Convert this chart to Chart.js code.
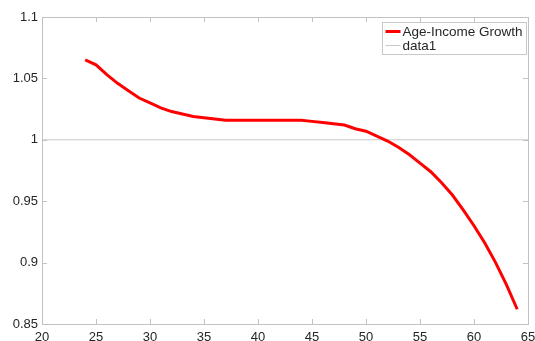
<!DOCTYPE html>
<html>
<head>
<meta charset="utf-8">
<script src="https://cdn.jsdelivr.net/npm/chart.js"></script>
<style>
  html, body { margin: 0; padding: 0; background: #fff; }
  #wrap { width: 535px; height: 341px; }
</style>
</head>
<body>
<div id="wrap"><canvas id="growthChart" width="535" height="341"></canvas></div>
<script>
// ages and the age-income growth factor
const ages = [24, 25, 26, 27, 28, 29, 30, 31, 32, 33, 34, 35, 36, 37, 38, 39, 40, 41, 42, 43, 44,
              45, 46, 47, 48, 49, 50, 51, 52, 53, 54, 55, 56, 57, 58, 59, 60, 61, 62, 63, 64];
const growth = [1.065, 1.061, 1.053, 1.046, 1.040, 1.034, 1.030, 1.026, 1.023, 1.021, 1.019, 1.018, 1.017, 1.016,
                1.016, 1.016, 1.016, 1.016, 1.016, 1.016, 1.016,
                1.015, 1.014, 1.013, 1.012, 1.009, 1.007, 1.003, 0.999, 0.994, 0.988, 0.981, 0.974, 0.965,
                0.955, 0.943, 0.930, 0.916, 0.900, 0.882, 0.862];

// reference line (data1)
const refX = [20, 65];
const refY = [1, 1];

// axis ticks
const xTicks = [20, 25, 30, 35, 40, 45, 50, 55, 60, 65];
const yTicks = [0.85, 0.9, 0.95, 1, 1.05, 1.1];

const axisColor = '#c2c2c2';
const textColor = '#262626';
const fontFamily = 'Helvetica, Arial, "Liberation Sans", sans-serif';

// draws the MATLAB style box, inward ticks and legend
const matlabBox = {
    id: 'matlabBox',
    afterDraw(chart) {
        const ctx = chart.ctx;
        const area = chart.chartArea;
        const xs = chart.scales.x;
        const ys = chart.scales.y;
        const tickLen = 5;

        ctx.save();
        ctx.strokeStyle = axisColor;
        ctx.lineWidth = 1;
        ctx.strokeRect(Math.round(area.left) + 0.5, Math.round(area.top) + 0.5,
            Math.round(area.right - area.left), Math.round(area.bottom - area.top));

        ctx.beginPath();
        xTicks.forEach(v => {
            const px = Math.round(xs.getPixelForValue(v)) + 0.5;
            ctx.moveTo(px, area.bottom); ctx.lineTo(px, area.bottom - tickLen);
            ctx.moveTo(px, area.top); ctx.lineTo(px, area.top + tickLen);
        });
        yTicks.forEach(v => {
            const py = Math.round(ys.getPixelForValue(v)) + 0.5;
            ctx.moveTo(area.left, py); ctx.lineTo(area.left + tickLen, py);
            ctx.moveTo(area.right, py); ctx.lineTo(area.right - tickLen, py);
        });
        ctx.stroke();

        // legend in the top right corner
        const boxW = 144, boxH = 32;
        const bx = Math.round(area.right - boxW - 2) + 0.5;
        const by = Math.round(area.top + 5) + 0.5;
        ctx.fillStyle = '#fff';
        ctx.fillRect(bx, by, boxW, boxH);
        ctx.strokeStyle = '#c8c8c8';
        ctx.strokeRect(bx, by, boxW, boxH);

        ctx.font = '13.5px ' + fontFamily;
        ctx.textBaseline = 'middle';
        ctx.fillStyle = textColor;
        chart.data.datasets.forEach((ds, i) => {
            const rowY = by + 9 + i * 14;
            ctx.beginPath();
            ctx.strokeStyle = ds.borderColor;
            ctx.lineWidth = ds.borderWidth;
            ctx.moveTo(bx + 3, rowY);
            ctx.lineTo(bx + 18, rowY);
            ctx.stroke();
            ctx.fillText(ds.label, bx + 20, rowY + 0.5);
        });
        ctx.restore();
    }
};

const ctx = document.getElementById('growthChart').getContext('2d');
new Chart(ctx, {
    type: 'scatter',
    data: {
        datasets: [
            {
                label: 'Age-Income Growth',
                data: ages.map((a, i) => ({ x: a, y: growth[i] })),
                showLine: true,
                borderColor: '#ff0000',
                borderWidth: 3,
                pointRadius: 0,
                tension: 0
            },
            {
                label: 'data1',
                data: refX.map((a, i) => ({ x: a, y: refY[i] })),
                showLine: true,
                borderColor: '#c8c8c8',
                borderWidth: 1,
                pointRadius: 0
            }
        ]
    },
    options: {
        responsive: false,
        animation: false,
        layout: { padding: { top: 17, right: 7, left: 0, bottom: 0 } },
        plugins: {
            legend: { display: false },
            tooltip: { enabled: false }
        },
        scales: {
            x: {
                type: 'linear',
                min: 20,
                max: 65,
                afterBuildTicks: s => { s.ticks = xTicks.map(v => ({ value: v })); },
                afterFit: s => { s.height = 17; s.paddingLeft = 0; s.paddingRight = 0; },
                grid: { display: false, drawTicks: false },
                border: { display: false },
                ticks: {
                    padding: 6,
                    maxRotation: 0,
                    autoSkip: false,
                    color: textColor,
                    font: { family: fontFamily, size: 13 },
                    callback: v => String(v)
                }
            },
            y: {
                type: 'linear',
                min: 0.85,
                max: 1.1,
                afterBuildTicks: s => { s.ticks = yTicks.map(v => ({ value: v })); },
                afterFit: s => { s.width = 42; s.paddingTop = 0; s.paddingBottom = 0; },
                grid: { display: false, drawTicks: false },
                border: { display: false },
                ticks: {
                    padding: 4,
                    autoSkip: false,
                    color: textColor,
                    font: { family: fontFamily, size: 13 },
                    callback: v => String(+v.toFixed(2))
                }
            }
        }
    },
    plugins: [matlabBox]
});
</script>
</body>
</html>
